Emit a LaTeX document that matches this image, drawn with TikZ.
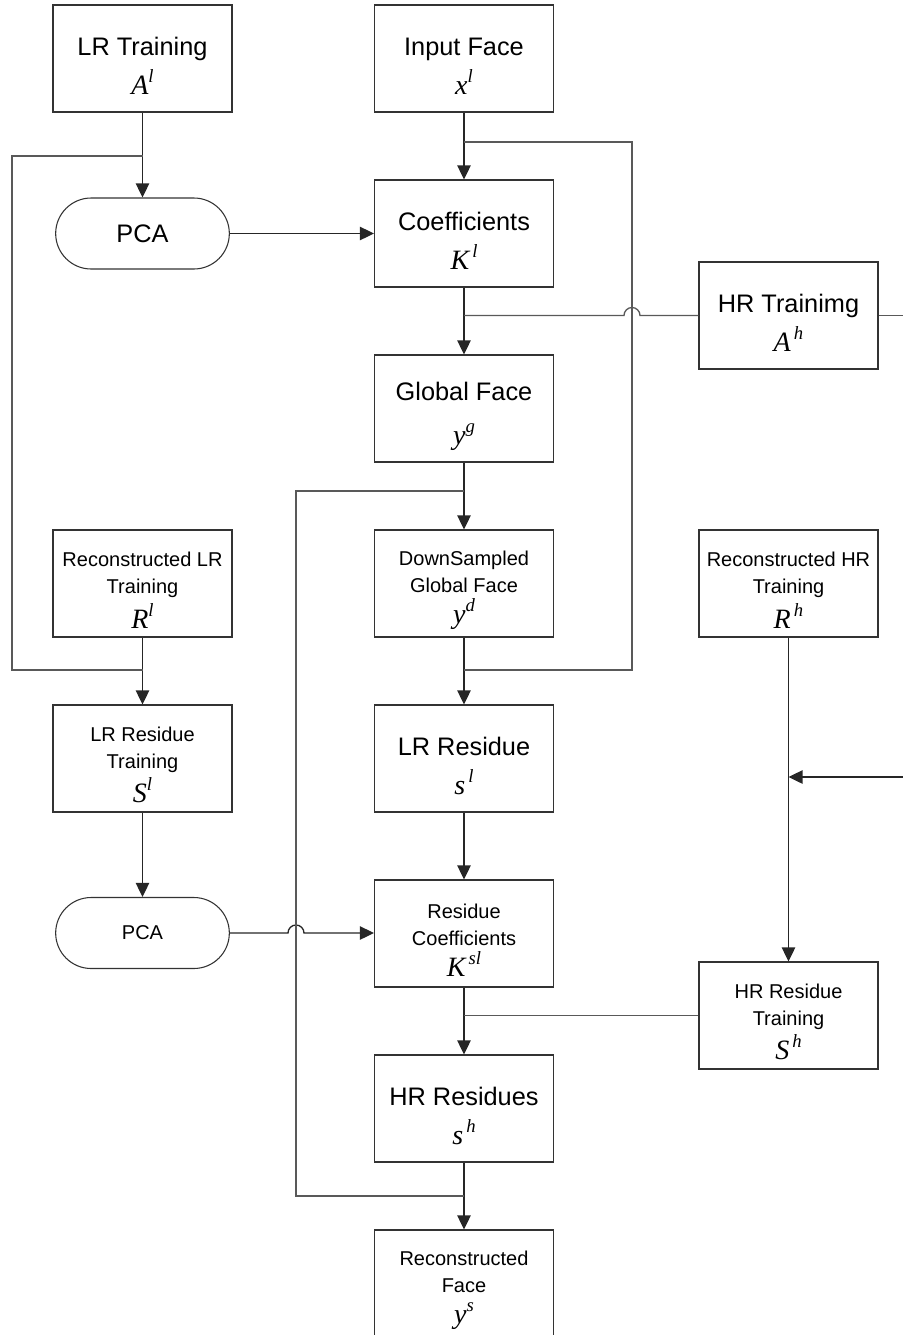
\documentclass[tikz,border=0pt]{standalone}
\usepackage{fontspec}
\setmainfont{Liberation Sans}
\newfontfamily\serifmath{Liberation Serif}
\usetikzlibrary{arrows.meta,shapes.misc}

% italic symbol with a raised italic index
\newcommand{\symb}[2]{{\serifmath\itshape\fontsize{21}{22}\selectfont #1\raisebox{9pt}{\fontsize{14}{14}\selectfont #2}}}
% taller first line, so the text block sits a little lower in its box
\newcommand{\toproom}[1]{\rule{0pt}{#1}}

\tikzset{
  box/.style={draw=black!80, line width=0.8pt, minimum width=134.25pt, minimum height=80.25pt,
              inner sep=2pt, align=center},
  big/.style={font=\fontsize{19}{29}\selectfont},
  small/.style={font=\fontsize{15}{20}\selectfont},
  pill/.style={draw=black!80, line width=0.8pt, rounded rectangle, minimum width=134.25pt,
               minimum height=53.25pt, inner sep=2pt},
  wire/.style={draw=black!65, line width=1pt},
  arr/.style={draw=black!85, line width=1pt, -{Triangle[length=10.5pt,width=10pt]}},
}

\begin{document}
\begin{tikzpicture}[x=0.75pt, y=-0.75pt]
\useasboundingbox (0,0) rectangle (903,1335);

% left column
\node[box,big]   (lrt)  at (142.5,58.5)  {\toproom{25pt}LR Training\\\symb{A}{l}};
\node[pill,big]  (pca1) at (142.5,233.5) {PCA};
\node[box,small] (rl)   at (142.5,583.5) {\toproom{21pt}Reconstructed LR\\Training\\[3pt]\symb{R}{l}};
\node[box,small] (sl)   at (142.5,758.5) {\toproom{21pt}LR Residue\\Training\\[3pt]\symb{S}{l}};
\node[pill,small](pca2) at (142.5,933)   {PCA};

% middle column
\node[box,big]   (inf)  at (464,58.5)   {\toproom{25pt}Input Face\\\symb{x}{l}};
\node[box,big]   (coef) at (464,233.5)  {\toproom{25pt}Coefficients\\\symb{K}{\,l}};
\node[box,big]   (glob) at (464,408.5)  {\toproom{25pt}Global Face\\[4pt]\symb{y}{g}};
\node[box,small] (down) at (464,583.5)  {\toproom{21pt}DownSampled\\Global Face\\[3pt]\symb{y}{d}};
\node[box,big]   (lrr)  at (464,758.5)  {\toproom{25pt}LR Residue\\\symb{s}{\,l}};
\node[box,small] (rc)   at (464,933.5)  {\toproom{21pt}Residue\\Coefficients\\[3pt]\symb{K}{\,sl}};
\node[box,big]   (hrr)  at (464,1108.5) {\toproom{25pt}HR Residues\\\symb{s}{\,h}};
\node[box,small] (rf)   at (464,1283.5) {\toproom{21pt}Reconstructed\\Face\\[3pt]\symb{y}{s}};

% right column
\node[box,big]   (hrt)  at (788.5,315.5)  {\toproom{25pt}HR Trainimg\\\symb{A}{\,h}};
\node[box,small] (rh)   at (788.5,583.5)  {\toproom{21pt}Reconstructed HR\\Training\\[3pt]\symb{R}{\,h}};
\node[box,small] (sh)   at (788.5,1015.5) {\toproom{21pt}HR Residue\\Training\\[3pt]\symb{S}{\,h}};

% junction points
\coordinate (j1) at (142.5,156);
\coordinate (j2) at (142.5,670);
\coordinate (j3) at (464,142);
\coordinate (j4) at (464,670);
\coordinate (j5) at (464,315.5);
\coordinate (j6) at (788.5,777);
\coordinate (j7) at (464,491);
\coordinate (j8) at (464,1196);
\coordinate (j9) at (464,1015.5);
\coordinate (edgeA) at (903,315.5);
\coordinate (edgeB) at (903,777);

% main flow
\draw[arr] (lrt.south) -- (pca1.north);
\draw[arr] (pca1.east) -- (coef.west);
\draw[arr] (inf.south) -- (coef.north);
\draw[arr] (coef.south) -- (glob.north);
\draw[arr] (glob.south) -- (down.north);
\draw[arr] (down.south) -- (lrr.north);
\draw[arr] (lrr.south) -- (rc.north);
\draw[arr] (rc.south) -- (hrr.north);
\draw[arr] (hrr.south) -- (rf.north);
\draw[arr] (rl.south) -- (sl.north);
\draw[arr] (sl.south) -- (pca2.north);
\draw[arr] (rh.south) -- (sh.north);
\draw[arr] (pca2.east) -- (288,933) arc[start angle=180, end angle=0, radius=6pt] -- (rc.west |- 0,933);
\draw[arr] (edgeB) -- (j6);

% side branches
\draw[wire] (j1) -- (12,156) -- (12,670) -- (j2);
\draw[wire] (j3) -- (632,142) -- (632,670) -- (j4);
\draw[wire] (j5) -- (624,315.5) arc[start angle=180, end angle=0, radius=6pt] -- (hrt.west);
\draw[wire] (hrt.east) -- (edgeA);
\draw[wire] (j7) -- (296,491) -- (296,1196) -- (j8);
\draw[wire] (sh.west) -- (j9);
\end{tikzpicture}
\end{document}
